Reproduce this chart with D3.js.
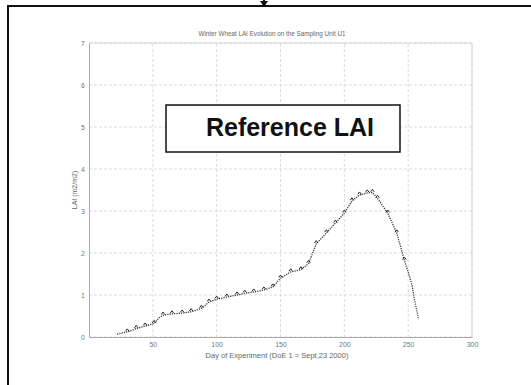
<!DOCTYPE html>
<html><head><meta charset="utf-8">
<script src="https://cdn.jsdelivr.net/npm/d3@7"></script>
<style>body{margin:0;background:#fff}svg{display:block}</style>
</head><body>
<script>
const days = [22,30,37,44,51,55,58,65,73,80,88,94,100,108,116,122,129,137,144,150,158,166,172,178,186,193,200,206,212,218,222,226,234,241,247,250,253,255,258];
const lai  = [0.07,0.12,0.20,0.26,0.32,0.46,0.52,0.55,0.57,0.60,0.68,0.83,0.90,0.95,1.00,1.04,1.07,1.12,1.19,1.40,1.55,1.60,1.75,2.22,2.48,2.71,2.95,3.24,3.38,3.43,3.44,3.30,2.95,2.48,1.83,1.55,1.24,0.88,0.45];
const markerDays = [30,37,44,51,58,65,73,80,88,94,100,108,116,122,129,137,144,150,158,166,172,178,186,193,200,206,212,218,222,226,234,241,247];
const xTicks = [50,100,150,200,250,300];
const yTicks = [0,1,2,3,4,5,6,7];
const title = "Winter Wheat LAI Evolution on the Sampling Unit U1";
const xLabel = "Day of Experiment (DoE 1 = Sept,23 2000)";
const yLabel = "LAI (m2/m2)";
const boxText = "Reference LAI";

const W = 531, H = 385;
const FONT = "Liberation Sans, Arial, sans-serif";
const svg = d3.select("body").append("svg").attr("width", W).attr("height", H);
svg.append("rect").attr("width", W).attr("height", H).attr("fill", "#fff");

// outer frame
svg.append("rect").attr("x", 8).attr("y", 6).attr("width", 600).attr("height", 500)
  .attr("fill", "none").attr("stroke", "#111").attr("stroke-width", 2);
// arrow tip at top
svg.append("line").attr("x1", 264).attr("x2", 264).attr("y1", 0).attr("y2", 3).attr("stroke", "#111").attr("stroke-width", 2);
svg.append("path").attr("d", "M260,1 L268,1 L264,7 Z").attr("fill", "#111");

const x = d3.scaleLinear().domain([0, 300]).range([89, 472]);
const y = d3.scaleLinear().domain([0, 7]).range([337, 43]);

const grid = svg.append("g");
xTicks.forEach(t => grid.append("line").attr("x1", x(t)).attr("x2", x(t)).attr("y1", y(0)).attr("y2", y(7))
  .attr("stroke", "#d2d2d2").attr("stroke-dasharray", "3,2").attr("stroke-width", 0.8));
yTicks.forEach(t => grid.append("line").attr("x1", x(0)).attr("x2", x(300)).attr("y1", y(t)).attr("y2", y(t))
  .attr("stroke", "#d2d2d2").attr("stroke-dasharray", "3,2").attr("stroke-width", 0.8));

// axes
const xAxis = d3.axisBottom(x).tickValues(xTicks).tickSize(0).tickPadding(5).tickFormat(d3.format("d"));
const yAxis = d3.axisLeft(y).tickValues(yTicks).tickSize(0).tickPadding(4).tickFormat(d3.format("d"));
const gx = svg.append("g").attr("transform", `translate(0,${y(0)})`).call(xAxis);
const gy = svg.append("g").attr("transform", `translate(${x(0)},0)`).call(yAxis);
[gx, gy].forEach(g => {
  g.select(".domain").attr("stroke", "#aaa").attr("stroke-width", 1);
  g.selectAll("text").attr("fill", "#777").attr("font-family", FONT).attr("font-size", 7);
});
// top/right box edges
svg.append("line").attr("x1", x(0)).attr("x2", x(300)).attr("y1", y(7)).attr("y2", y(7)).attr("stroke", "#d0d0d0").attr("stroke-width", 0.8);
svg.append("line").attr("x1", x(300)).attr("x2", x(300)).attr("y1", y(0)).attr("y2", y(7)).attr("stroke", "#d0d0d0").attr("stroke-width", 0.8);

// title & labels
svg.append("text").attr("x", 272).attr("y", 36).attr("text-anchor", "middle")
  .attr("font-family", FONT).attr("font-size", 6.3).attr("fill", "#666").text(title);
svg.append("text").attr("x", 277).attr("y", 358).attr("text-anchor", "middle")
  .attr("font-family", FONT).attr("font-size", 7.5).attr("fill", "#666").text(xLabel);
svg.append("text").attr("transform", "translate(77,190) rotate(-90)").attr("text-anchor", "middle")
  .attr("font-family", FONT).attr("font-size", 7).attr("fill", "#666").text(yLabel);

// data
const pts = days.map((d, i) => [d, lai[i]]);
const line = d3.line().x(d => x(d[0])).y(d => y(d[1])).curve(d3.curveLinear);
svg.append("path").attr("d", line(pts)).attr("fill", "none").attr("stroke", "#333")
  .attr("stroke-width", 1.3).attr("stroke-dasharray", "1.2,1.1");
const mk = pts.filter(p => markerDays.includes(p[0]));
svg.append("g").selectAll("path").data(mk).join("path")
  .attr("d", "M-1.8,0.8 L0,-1.6 L1.8,0.8")
  .attr("transform", d => `translate(${x(d[0])},${y(d[1]) - 1.5})`)
  .attr("fill", "none").attr("stroke", "#222").attr("stroke-width", 1);

// reference box
svg.append("rect").attr("x", 166).attr("y", 105).attr("width", 234).attr("height", 47)
  .attr("fill", "#fff").attr("stroke", "#111").attr("stroke-width", 1.5);
svg.append("text").attr("x", 290).attr("y", 136).attr("text-anchor", "middle")
  .attr("font-family", FONT).attr("font-weight", "bold")
  .attr("font-size", 25).attr("fill", "#111").text(boxText);
</script>
</body></html>
